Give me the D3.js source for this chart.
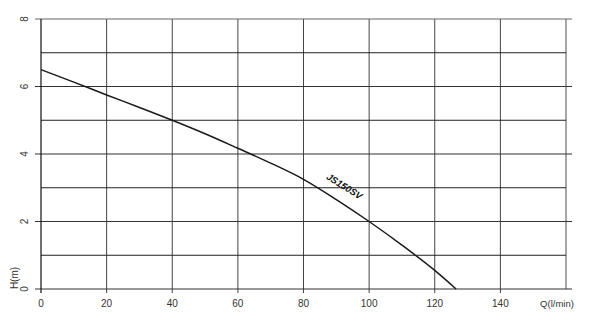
<!DOCTYPE html>
<html>
<head>
<meta charset="utf-8">
<script src="https://cdn.jsdelivr.net/npm/d3@7"></script>
<style>
  body { margin: 0; background: #fff; }
  text { font-family: "Liberation Sans", Arial, sans-serif; fill: #333; }
</style>
</head>
<body>
<div class="chart"></div>
<script>
// flow Q (l/min) vs head H (m)
const flow = [0, 10, 20, 30, 40, 50, 60, 70, 80, 90, 100, 110, 120, 126.5];
const head = [6.5, 6.13, 5.75, 5.38, 5.0, 4.6, 4.17, 3.73, 3.25, 2.65, 2.0, 1.3, 0.55, 0];
const xTicks = [0, 20, 40, 60, 80, 100, 120, 140];
const yTicks = [0, 2, 4, 6, 8];
const yGrid = [1, 3, 5, 7];
const modelName = "JS150SV";

const width = 590, height = 315;
const margin = {top: 19, right: 24, bottom: 26, left: 41};

const svg = d3.select(".chart").append("svg")
    .attr("width", width)
    .attr("height", height);

const x = d3.scaleLinear().domain([0, 160]).range([margin.left, width - margin.right]);
const y = d3.scaleLinear().domain([0, 8]).range([height - margin.bottom, margin.top]);

// vertical grid lines
svg.append("g")
    .selectAll("line")
    .data(xTicks.slice(1))
    .enter().append("line")
    .attr("x1", d => x(d)).attr("x2", d => x(d))
    .attr("y1", y(8)).attr("y2", y(0) + 4)
    .attr("stroke", "#444").attr("stroke-width", 1);

// right border
svg.append("line")
    .attr("x1", x(160)).attr("x2", x(160))
    .attr("y1", y(8)).attr("y2", y(0))
    .attr("stroke", "#777").attr("stroke-width", 1.3);

// horizontal grid lines (odd, no labels)
svg.append("g")
    .selectAll("line")
    .data(yGrid)
    .enter().append("line")
    .attr("x1", x(0)).attr("x2", x(160))
    .attr("y1", d => y(d)).attr("y2", d => y(d))
    .attr("stroke", "#222").attr("stroke-width", 1);

// labelled horizontal lines with ticks both sides
svg.append("g")
    .selectAll("line")
    .data(yTicks)
    .enter().append("line")
    .attr("x1", x(0) - 6).attr("x2", x(160) + 6)
    .attr("y1", d => y(d)).attr("y2", d => y(d))
    .attr("stroke", d => d === 8 ? "#666" : "#333").attr("stroke-width", 1.2);

// left axis line
svg.append("line")
    .attr("x1", x(0)).attr("x2", x(0))
    .attr("y1", y(8)).attr("y2", y(0) + 4)
    .attr("stroke", "#111").attr("stroke-width", 1.2);

// y tick labels (rotated)
svg.append("g")
    .selectAll("text")
    .data(yTicks)
    .enter().append("text")
    .attr("transform", d => "translate(" + (x(0) - 13) + "," + y(d) + ") rotate(-90)")
    .attr("text-anchor", "middle")
    .attr("font-size", 10)
    .text(d => d);

// x tick labels
svg.append("g")
    .selectAll("text")
    .data(xTicks)
    .enter().append("text")
    .attr("x", d => x(d))
    .attr("y", y(0) + 18)
    .attr("text-anchor", "middle")
    .attr("font-size", 10)
    .text(d => d);

svg.append("text")
    .attr("x", 557)
    .attr("y", y(0) + 18)
    .attr("text-anchor", "middle")
    .attr("font-size", 9.5)
    .text("Q(l/min)");

svg.append("text")
    .attr("transform", "translate(" + 18 + "," + 278 + ") rotate(-90)")
    .attr("text-anchor", "middle")
    .attr("font-size", 10)
    .text("H(m)");

// pump curve
const pts = flow.map((q, i) => [q, head[i]]);
const line = d3.line()
    .x(d => x(d[0]))
    .y(d => y(d[1]))
    .curve(d3.curveMonotoneX);

svg.append("path")
    .datum(pts)
    .attr("d", line)
    .attr("fill", "none")
    .attr("stroke", "#1a1a1a")
    .attr("stroke-width", 1.5);

// model label along curve
svg.append("text")
    .attr("transform", "translate(" + 344 + "," + 187 + ") rotate(32)")
    .attr("text-anchor", "middle")
    .attr("dominant-baseline", "middle")
    .attr("font-size", 9.5)
    .attr("font-weight", "bold")
    .attr("font-style", "italic")
    .style("fill", "#111")
    .text(modelName);
</script>
</body>
</html>
